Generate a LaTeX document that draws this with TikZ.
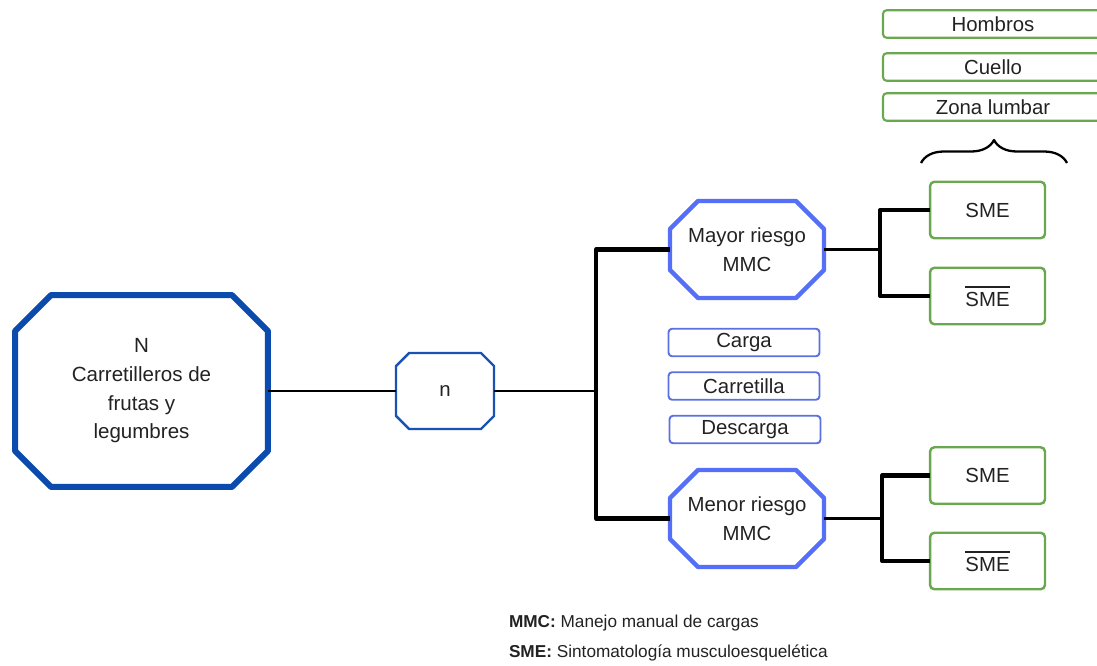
\documentclass[tikz,border=0pt]{standalone}
\usepackage{fontspec}
\setmainfont{Liberation Sans}
\usetikzlibrary{decorations.pathreplacing}
\definecolor{darkblue}{HTML}{0B4BAE}
\definecolor{midblue}{HTML}{1852B2}
\definecolor{riskblue}{HTML}{5570F6}
\definecolor{boxblue}{HTML}{5B70E2}
\definecolor{symgreen}{HTML}{6AA84F}
\definecolor{txt}{HTML}{222222}

% octagon round a named node: #1 draw options, #2 node name, #3 corner cut
\newcommand{\octagon}[3]{%
  \draw[#1] ([xshift=#3]#2.north west) -- ([xshift=-#3]#2.north east)
    -- ([yshift=-#3]#2.north east) -- ([yshift=#3]#2.south east)
    -- ([xshift=-#3]#2.south east) -- ([xshift=#3]#2.south west)
    -- ([yshift=#3]#2.south west) -- ([yshift=-#3]#2.north west) -- cycle;}
% SME with a bar over it
\newcommand{\noSME}{{\setbox0\hbox{SME}%
  \rlap{\rule[\dimexpr\ht0+2.4pt\relax]{\wd0}{1pt}}\box0}}

\begin{document}
\begin{tikzpicture}[x=0.02cm,y=-0.02cm,line join=round,
    every node/.style={text=txt,inner sep=0pt,outer sep=0pt,align=center,
      font=\fontsize{11.6}{16.4}\selectfont},
    octa/.style 2 args={minimum width=#1,minimum height=#2},
    factor/.style={draw=boxblue,line width=1.1pt,rounded corners=2pt,
      minimum width=3.02cm,minimum height=0.55cm},
    sme/.style={draw=symgreen,line width=1.4pt,rounded corners=2.5pt,
      minimum width=2.3cm,minimum height=1.13cm},
    zone/.style={draw=symgreen,line width=1.2pt,rounded corners=2pt,
      minimum width=4.4cm,minimum height=0.55cm},
    link/.style={line width=1.6pt},
    branch/.style={line width=2.3pt}]
    \useasboundingbox (0,0) rectangle (1097,665);
    \clip (0,0) rectangle (1097,665);

    %population
    \node[octa={5.06cm}{3.84cm},font=\fontsize{11.7}{16.3}\selectfont] (pop) at (141.5,391)
        {N\\Carretilleros de\\frutas y\\legumbres};
    \octagon{darkblue,line width=3.4pt}{pop}{0.72cm}

    %sample
    \node[octa={1.96cm}{1.52cm}] (sample) at (445,391) {n};
    \octagon{midblue,line width=1.4pt}{sample}{0.26cm}

    %risk groups
    \node[octa={3.08cm}{1.94cm}] (high) at (747,249.5) {Mayor riesgo\\MMC};
    \octagon{riskblue,line width=2.5pt}{high}{0.56cm}
    \node[octa={3.08cm}{1.94cm}] (low) at (747,518.5) {Menor riesgo\\MMC};
    \octagon{riskblue,line width=2.5pt}{low}{0.56cm}

    %tasks
    \node[factor] (carga) at (744,342.5) {Carga};
    \node[factor] (carretilla) at (744,386) {Carretilla};
    \node[factor] (descarga) at (745,429.5) {Descarga};

    %symptoms
    \node[sme] (smeA) at (987.5,210) {SME};
    \node[sme] (noA) at (987.5,296) {\noSME};
    \node[sme] (smeB) at (987.5,475.5) {SME};
    \node[sme] (noB) at (987.5,561) {\noSME};

    %body zones
    \node[zone] (hombros) at (993,24) {Hombros};
    \node[zone] (cuello) at (993,67) {Cuello};
    \node[zone] (lumbar) at (993,107) {Zona lumbar};
    % brace under the zones
    \coordinate (braceL) at (921,163);
    \coordinate (braceR) at (1067,163);
    \draw[line width=1.3pt,decorate,decoration={brace,amplitude=0.46cm}] (braceL) -- (braceR);

    %connectors
    \coordinate (trunk) at (596,391);
    \draw[link] (pop.east) -- (sample.west);
    \draw[link] (sample.east) -- (trunk);
    \draw[branch] (high.west) -| (trunk) |- (low.west);

    \draw[link] (high.east) -- ++(56,0) coordinate (forkA);
    \draw[branch] (smeA.west) -| (forkA) |- (noA.west);
    \draw[link] (low.east) -- ++(58,0) coordinate (forkB);
    \draw[branch] (smeB.west) -| (forkB) |- (noB.west);

    %legend
    \node[anchor=west,font=\fontsize{9.8}{11}\selectfont] (legMMC) at (509,623)
        {\textbf{MMC:} Manejo manual de cargas};
    \node[anchor=west,font=\fontsize{9.8}{11}\selectfont] (legSME) at (509,653)
        {\textbf{SME:} Sintomatología musculoesquelética};
\end{tikzpicture}
\end{document}
